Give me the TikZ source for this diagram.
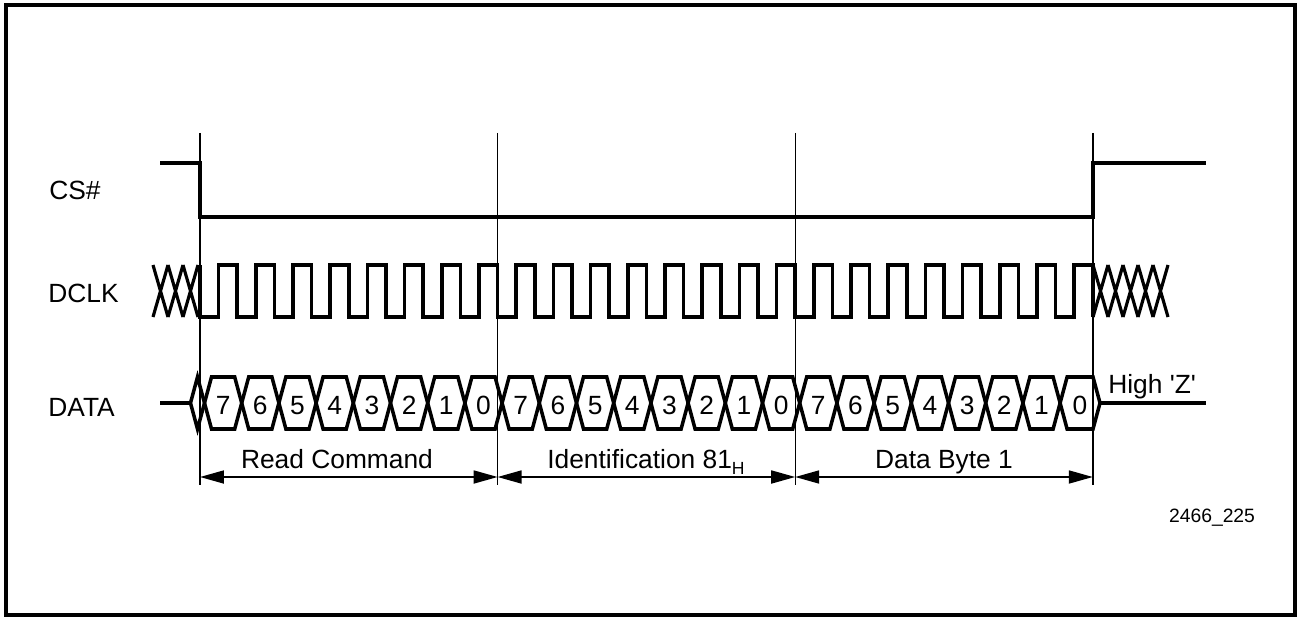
\documentclass[tikz,border=0pt]{standalone}
\usepackage{fontspec}
\setmainfont{Liberation Sans}
\usetikzlibrary{arrows.meta}
\newcommand{\drawthick}{\draw[line width=2pt]}
\newcommand{\bitw}{37.2}
% one cell of the data bus, between two crossings
\newcommand{\buscell}[2]{\drawthick[line join=miter] (#1,403)--++(7,-26)--(#2-7,377)--(#2,403)--(#2-7,429)--(#1+7,429)--cycle;}
\newcommand{\hatch}[2]{
    \foreach \i in {1,...,#2}{
    \draw[line width=1.8pt] (#1+15*\i-15,265)--++(15,52) (#1+15*\i-15,317)--++(15,-52);
    }
}

\begin{document}
\begin{tikzpicture}[x=0.02cm,y=-0.02cm,
    lbl/.style={font=\fontsize{15}{18}\selectfont,inner sep=0pt},
    dim/.style={{Triangle[length=0.48cm,width=0.26cm]}-{Triangle[length=0.48cm,width=0.26cm]},line width=1pt}]
\useasboundingbox (0,0) rectangle (1297,618);
\draw[line width=2pt] (6,5) rectangle (1295,615);
\foreach \i/\x in {0/200,1/497.6,2/795.2,3/1092.8}{
    \coordinate (g\i) at (\x,133);
    \coordinate (a\i) at (\x,477);
    \draw[line width=0.8pt] (g\i)--(\x,485);
}
\node[lbl,anchor=base west] (cs) at (49,199) {CS\#};
\node[lbl,anchor=base west] (dclk) at (48,302) {DCLK};
\node[lbl,anchor=base west] (data) at (48,416) {DATA};
\drawthick (160,163)--(200,163)--(200,217)--(1092.8,217)--(1092.8,163)--(1206,163);
\hatch{153}{3}\hatch{1093}{5}
\drawthick (200,265)--(200,317) \foreach \k in {1,...,24}{--++(18.6,0)--++(0,-52)--++(18.6,0)--++(0,52)};
\drawthick (160,403)--(190.5,403);
\buscell{190.5}{204.5}
\foreach \k in {0,...,23}{
    \pgfmathsetmacro\xa{204.5+\bitw*\k}
    \pgfmathsetmacro\xb{\k<23 ? \xa+\bitw : 1100}
    \pgfmathtruncatemacro\bv{7-mod(\k,8)}
    \buscell{\xa}{\xb}
    \node[lbl,anchor=base] (b\k) at ({(\xa+\xb)/2},414) {\bv};
}
\drawthick (1100,403)--(1206,403);
\node[lbl,anchor=base west] (hiz) at (1108,393) {High \textquotesingle Z\textquotesingle};
\draw[dim] (a0)--(a1);\draw[dim] (a1)--(a2);\draw[dim] (a2)--(a3);
\node[lbl,anchor=base] (cmd) at (337,468) {Read Command};
\node[lbl,anchor=base] (ident) at (646,468) {Identification 81\raisebox{-0.45ex}{\fontsize{10}{12}\selectfont H}};
\node[lbl,anchor=base] (byte) at (944,468) {Data Byte 1};
\node[lbl,font=\fontsize{11}{13}\selectfont,anchor=base] (fig) at (1212,522) {2466\_225};
\end{tikzpicture}
\end{document}
